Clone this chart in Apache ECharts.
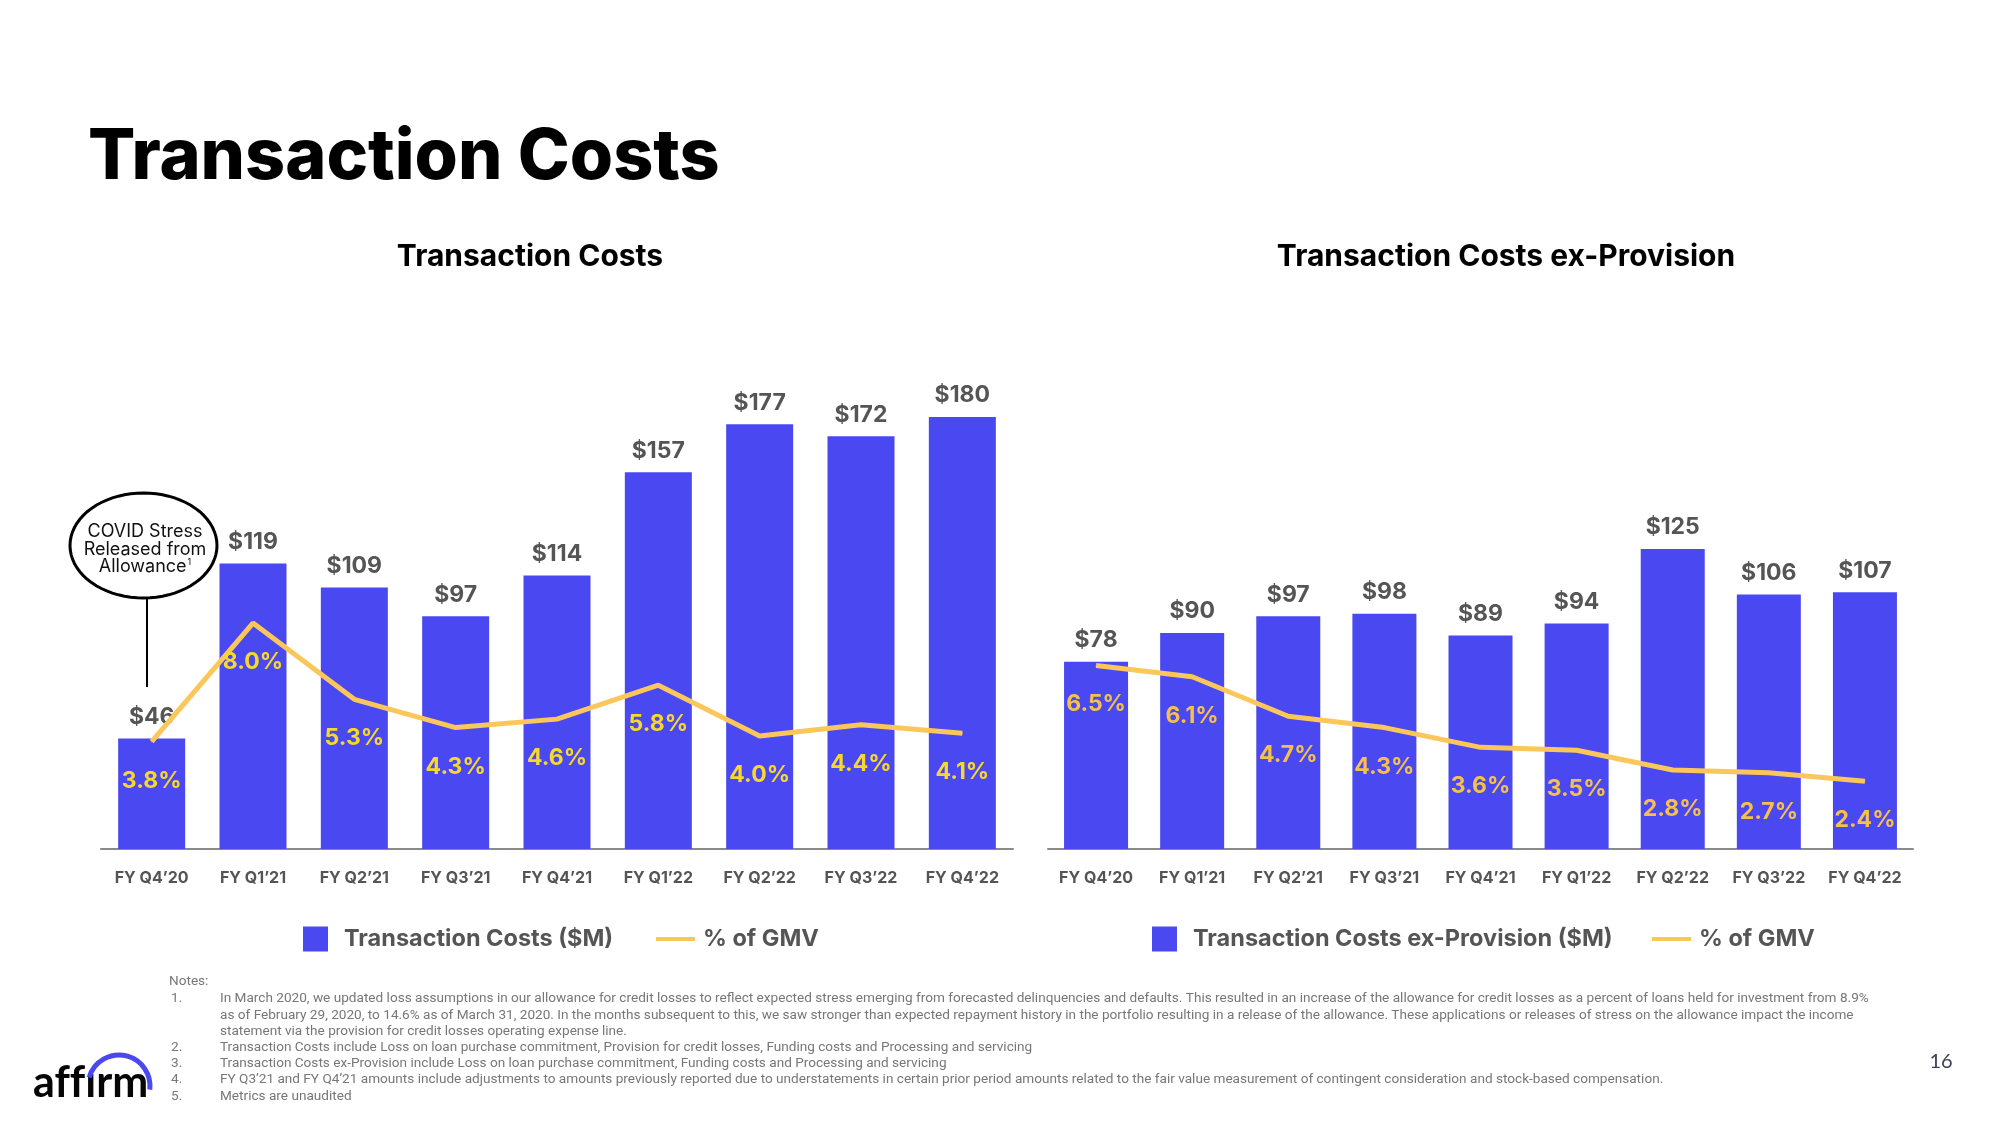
<!DOCTYPE html>
<html>
<head>
<meta charset="utf-8">
<style>
html,body{margin:0;padding:0;background:#fff;}
#chart{width:2000px;height:1125px;}
</style>
<script src="https://cdn.jsdelivr.net/npm/echarts@6/dist/echarts.min.js"></script>
</head>
<body>
<div id="chart"></div>
<script>
const categories = ["FY Q4’20","FY Q1’21","FY Q2’21","FY Q3’21","FY Q4’21","FY Q1’22","FY Q2’22","FY Q3’22","FY Q4’22"];
const tcValues = [46,119,109,97,114,157,177,172,180];
const tcPct = [3.8,8.0,5.3,4.3,4.6,5.8,4.0,4.4,4.1];
const exValues = [78,90,97,98,89,94,125,106,107];
const exPct = [6.5,6.1,4.7,4.3,3.6,3.5,2.8,2.7,2.4];

const notesLines = [
  ["1.", "In March 2020, we updated loss assumptions in our allowance for credit losses to reflect expected stress emerging from forecasted delinquencies and defaults. This resulted in an increase of the allowance for credit losses as a percent of loans held for investment from 8.9%"],
  ["", "as of February 29, 2020, to 14.6% as of March 31, 2020. In the months subsequent to this, we saw stronger than expected repayment history in the portfolio resulting in a release of the allowance. These applications or releases of stress on the allowance impact the income"],
  ["", "statement via the provision for credit losses operating expense line."],
  ["2.", "Transaction Costs include Loss on loan purchase commitment, Provision for credit losses, Funding costs and Processing and servicing"],
  ["3.", "Transaction Costs ex-Provision include Loss on loan purchase commitment, Funding costs and Processing and servicing"],
  ["4.", "FY Q3’21 and FY Q4’21 amounts include adjustments to amounts previously reported due to understatements in certain prior period amounts related to the fair value measurement of contingent consideration and stock-based compensation."],
  ["5.", "Metrics are unaudited"]
];

const BLUE = '#4A48F0';
const LINE = '#FCC75A';
const FONT = 'Inter';

const chart = echarts.init(document.getElementById('chart'));

function barSeries(name, data, xi, yi, width) {
  return {
    name, type: 'bar', data, xAxisIndex: xi, yAxisIndex: yi, barWidth: width,
    color: BLUE, itemStyle: {color: BLUE},
    label: {show: true, position: 'top', distance: 10, formatter: p => '$' + p.value,
      color: '#555555', fontFamily: FONT, fontWeight: 'bold', fontSize: 23},
    z: 2
  };
}
function lineSeries(name, data, xi, yi, labelColor) {
  return {
    name, type: 'line', data, xAxisIndex: xi, yAxisIndex: yi,
    color: LINE, symbol: 'circle', symbolSize: 1, itemStyle: {color: LINE},
    lineStyle: {color: LINE, width: 5},
    label: {show: true, position: 'bottom', distance: 27, formatter: p => p.value.toFixed(1) + '%',
      color: labelColor, fontFamily: FONT, fontWeight: 'bold', fontSize: 23},
    z: 5
  };
}

const xAxisBase = {
  type: 'category', data: categories,
  axisLine: {show: true, lineStyle: {color: '#8a8a8a', width: 2}},
  axisTick: {show: false},
  axisLabel: {interval: 0, color: '#555555', fontFamily: FONT, fontWeight: 'bold', fontSize: 16, margin: 21}
};

const NOTE_FONT = '13.6px Roboto';
const notesGraphics = [];
notesGraphics.push({type: 'text', x: 169, y: 982, style: {text: 'Notes:', fill: '#777', font: NOTE_FONT, textVerticalAlign: 'middle'}});
notesLines.forEach((ln, i) => {
  const y = 999 + i * 16.2;
  if (ln[0]) notesGraphics.push({type: 'text', x: 171, y, style: {text: ln[0], fill: '#777', font: NOTE_FONT, textVerticalAlign: 'middle'}});
  notesGraphics.push({type: 'text', x: 220, y, style: {text: ln[1], fill: '#777', font: NOTE_FONT, textVerticalAlign: 'middle'}});
});

// ellipse outline for callout (decoration)
const ellPts = [];
for (let k = 0; k < 72; k++) {
  const a = k / 72 * Math.PI * 2;
  ellPts.push([143.5 + 73.5 * Math.cos(a), 545.5 + 52.5 * Math.sin(a)]);
}

const legendText = {color: '#555555', fontFamily: FONT, fontWeight: 'bold', fontSize: 23.5, lineHeight: 26};

const option = {
  backgroundColor: '#ffffff',
  animation: false,
  grid: [
    {left: 101, top: 369, width: 912, height: 480},
    {left: 1048, top: 369, width: 865, height: 480}
  ],
  xAxis: [
    Object.assign({gridIndex: 0}, xAxisBase),
    Object.assign({gridIndex: 1}, xAxisBase)
  ],
  yAxis: [
    {gridIndex: 0, type: 'value', min: 0, max: 200, show: false, splitLine: {show: false}},
    {gridIndex: 0, type: 'value', min: 0, max: 17, show: false, splitLine: {show: false}},
    {gridIndex: 1, type: 'value', min: 0, max: 200, show: false, splitLine: {show: false}},
    {gridIndex: 1, type: 'value', min: 0, max: 17, show: false, splitLine: {show: false}}
  ],
  legend: [
    {data: [{name: 'Transaction Costs ($M)', icon: 'rect'}], left: 303, top: 926, padding: 0,
      itemWidth: 25, itemHeight: 25, textStyle: Object.assign({padding: [0, 0, 0, 11]}, legendText), selectedMode: false},
    {data: [{name: '% of GMV', icon: 'rect'}], left: 656, top: 926, padding: 0,
      itemWidth: 39, itemHeight: 4, textStyle: Object.assign({padding: [0, 0, 0, 3]}, legendText), selectedMode: false},
    {data: [{name: 'Transaction Costs ex-Provision ($M)', icon: 'rect'}], left: 1152, top: 926, padding: 0,
      itemWidth: 25, itemHeight: 25, textStyle: Object.assign({padding: [0, 0, 0, 11]}, legendText), selectedMode: false},
    {data: [{name: '% of GMV', icon: 'rect'}], left: 1652, top: 926, padding: 0,
      itemWidth: 39, itemHeight: 4, textStyle: Object.assign({padding: [0, 0, 0, 3]}, legendText), selectedMode: false}
  ],
  series: [
    barSeries('Transaction Costs ($M)', tcValues, 0, 0, 67),
    lineSeries('% of GMV', tcPct, 0, 1, '#F7D82B'),
    barSeries('Transaction Costs ex-Provision ($M)', exValues, 1, 2, 64),
    lineSeries('% of GMV', exPct, 1, 3, '#F6C04C')
  ],
  graphic: [
    {type: 'text', x: 88, y: 158, style: {text: 'Transaction Costs', fill: '#000', font: '800 70px Inter', textVerticalAlign: 'middle'}},
    {type: 'text', x: 530, y: 257, style: {text: 'Transaction Costs', fill: '#000', font: 'bold 30px Inter', textAlign: 'center', textVerticalAlign: 'middle'}},
    {type: 'text', x: 1506, y: 257, style: {text: 'Transaction Costs ex-Provision', fill: '#000', font: 'bold 30px Inter', textAlign: 'center', textVerticalAlign: 'middle'}},
    // callout
    {type: 'line', shape: {x1: 147, y1: 598, x2: 147, y2: 687}, style: {stroke: '#000', lineWidth: 2}, z: 10},
    {type: 'polygon', shape: {points: ellPts}, style: {fill: '#fff', stroke: '#000', lineWidth: 3}, z: 10},
    {type: 'text', x: 145, y: 532, style: {text: 'COVID Stress', fill: '#111', font: '18px Inter', textAlign: 'center', textVerticalAlign: 'middle'}, z: 11},
    {type: 'text', x: 145, y: 550, style: {text: 'Released from', fill: '#111', font: '18px Inter', textAlign: 'center', textVerticalAlign: 'middle'}, z: 11},
    {type: 'text', x: 145, y: 567, style: {text: '{a|Allowance}{s|1}', textAlign: 'center', textVerticalAlign: 'middle',
      rich: {a: {fill: '#111', fontSize: 18, fontFamily: 'Inter'}, s: {fill: '#111', fontSize: 9, fontFamily: 'Inter', verticalAlign: 'top', padding: [0, 0, 10, 1]}}}, z: 11},
    // logo
    {type: 'text', x: 33, y: 1083, style: {text: 'af\u200Cf\u200Cırm', fill: '#060606', font: 'bold 43px Lato', textVerticalAlign: 'middle'}},
    {type: 'arc', shape: {cx: 119, cy: 1086, r: 31, startAngle: 3.42, endAngle: 6.4, clockwise: true}, style: {stroke: BLUE, lineWidth: 5, fill: 'none'}},
    // page number
    {type: 'text', x: 1941, y: 1062, style: {text: '16', fill: '#3d4252', font: '20px Lato', textAlign: 'center', textVerticalAlign: 'middle'}}
  ].concat(notesGraphics)
};

chart.setOption(option);
</script>
</body>
</html>
